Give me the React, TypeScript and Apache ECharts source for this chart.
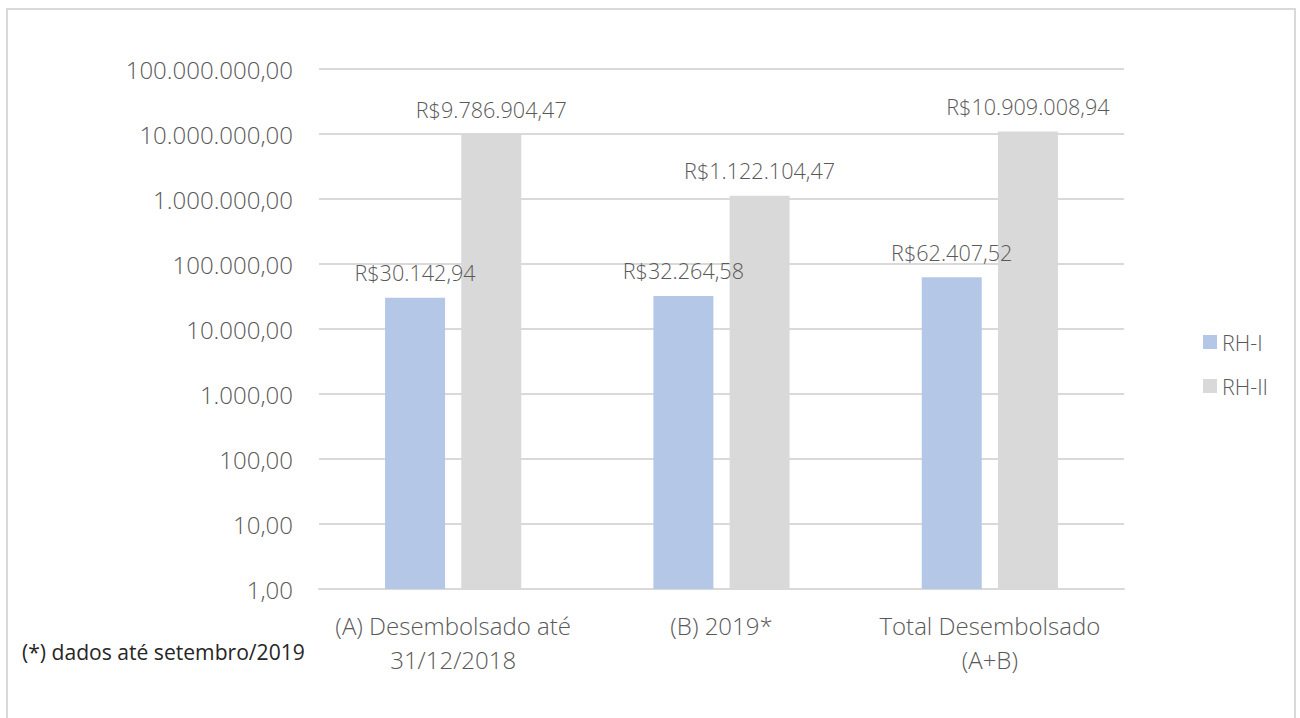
import React, { useEffect, useRef } from "react";
import * as echarts from "echarts";

const categories = ["(A) Desembolsado até\n31/12/2018", "(B) 2019*", "Total Desembolsado\n(A+B)"];
const seriesNames = ["RH-I", "RH-II"];
const rh1Values = [30142.94, 32264.58, 62407.52];
const rh2Values = [9786904.47, 1122104.47, 10909008.94];
const seriesColors = ["#B4C7E7", "#D9D9D9"];
const footnote = "(*) dados até setembro/2019";

const FONT = "'Open Sans', Lato, sans-serif";
const W = 300;

function fmt(v: number): string {
  return v.toLocaleString("pt-BR", { minimumFractionDigits: 2, maximumFractionDigits: 2 });
}

export default function App() {
  const ref = useRef<HTMLDivElement>(null);
  useEffect(() => {
    if (!ref.current) return;
    const chart = echarts.init(ref.current, null, { renderer: "svg" });
    const labelCfg = {
      show: true,
      position: "top",
      distance: 14,
      color: "#595959",
      fontFamily: FONT,
      fontWeight: W,
      fontSize: 21.6,
      formatter: (p: any) => "R$" + fmt(p.value),
    };
    chart.setOption({
      animation: false,
      backgroundColor: "#ffffff",
      textStyle: { fontFamily: FONT },
      grid: { left: 319, right: 176, top: 69, bottom: 129, containLabel: false },
      legend: {
        orient: "vertical",
        left: 1198,
        top: 326,
        itemWidth: 14,
        itemHeight: 14,
        itemGap: 22,
        icon: "rect",
        textStyle: { color: "#595959", fontSize: 21.5, fontFamily: FONT, fontWeight: W },
        data: seriesNames,
      },
      xAxis: {
        type: "category",
        data: categories,
        axisLine: { show: true, lineStyle: { color: "#D9D9D9", width: 2 } },
        axisTick: { show: false },
        axisLabel: {
          color: "#595959",
          fontSize: 24,
          fontFamily: FONT,
          fontWeight: W,
          lineHeight: 34,
          margin: 19,
          interval: 0,
        },
      },
      yAxis: {
        type: "log",
        logBase: 10,
        min: 1,
        max: 100000000,
        axisLine: { show: false },
        axisTick: { show: false },
        splitLine: { show: true, lineStyle: { color: "#D9D9D9", width: 2 } },
        axisLabel: {
          color: "#595959",
          fontSize: 24,
          fontFamily: FONT,
          fontWeight: W,
          margin: 26,
          formatter: (v: number) => fmt(v),
        },
      },
      series: [
        {
          name: seriesNames[0],
          type: "bar",
          data: rh1Values,
          barWidth: 60,
          barGap: "27%",
          itemStyle: { color: seriesColors[0] },
          label: labelCfg,
        },
        {
          name: seriesNames[1],
          type: "bar",
          data: rh2Values,
          barWidth: 60,
          barGap: "27%",
          itemStyle: { color: seriesColors[1] },
          label: labelCfg,
        },
      ],
      graphic: [
        {
          type: "rect",
          shape: { x: 7, y: 9, width: 1288, height: 720 },
          style: { fill: "none", stroke: "#D9D9D9", lineWidth: 2 },
          silent: true,
        },
        {
          type: "text",
          left: 22,
          top: 641,
          style: { text: footnote, fill: "#262626", fontSize: 21.1, fontFamily: FONT, fontWeight: 400 },
        },
      ],
    });
    return () => chart.dispose();
  }, []);
  return (
    <div
      ref={ref}
      style={{ position: "fixed", left: 0, top: 0, width: 1300, height: 718 }}
    />
  );
}
